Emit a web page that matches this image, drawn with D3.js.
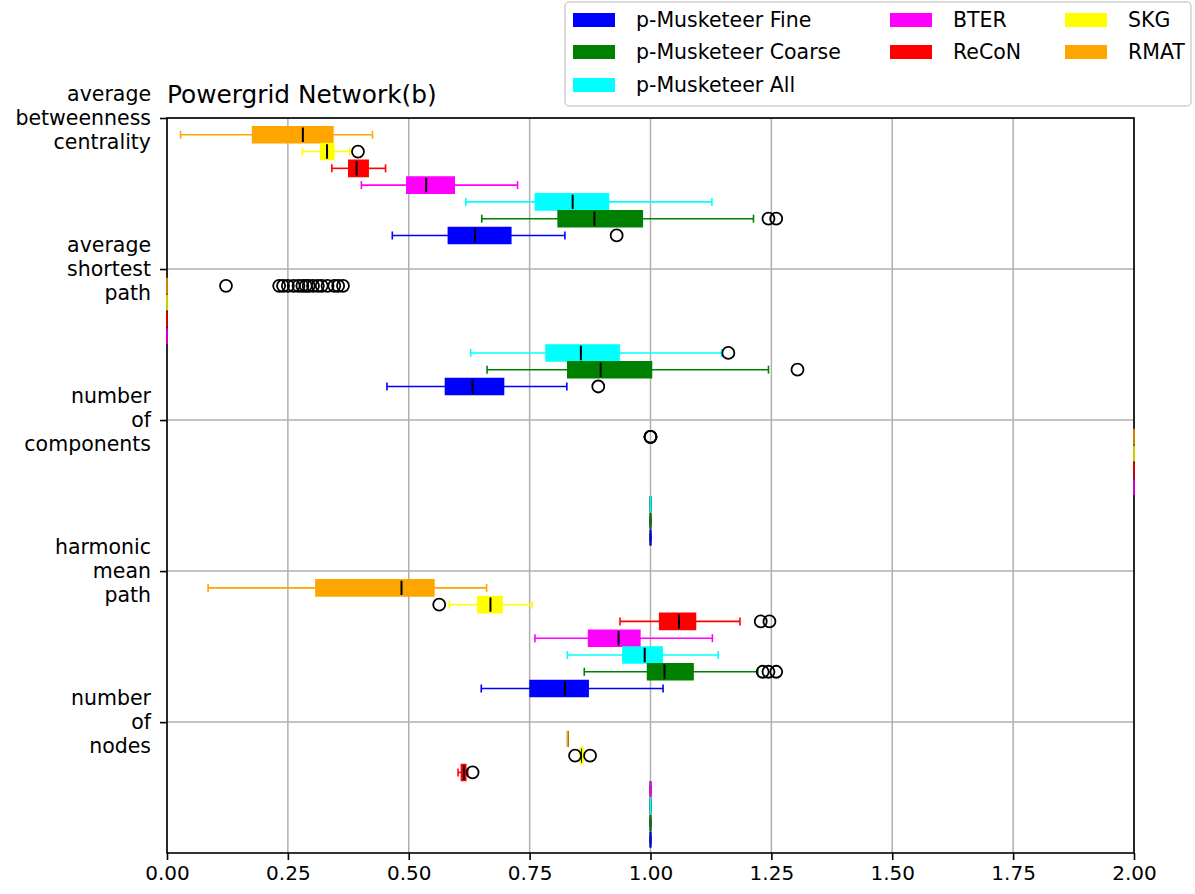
<!DOCTYPE html>
<html>
<head>
<meta charset="utf-8">
<script src="https://cdn.jsdelivr.net/npm/d3@7"></script>
<style>
  html, body { margin: 0; padding: 0; background: #fff; }
  svg { display: block; font-family: "DejaVu Sans", sans-serif; }
</style>
</head>
<body>
<svg id="chart" width="1195" height="894"></svg>
<script>
// ---------------- data ----------------
const title = "Powergrid Network(b)";
const metrics = [
  "average\nbetweenness\ncentrality",
  "average\nshortest\npath",
  "number\nof\ncomponents",
  "harmonic\nmean\npath",
  "number\nof\nnodes"
];
// drawing order inside each group (top to bottom)
const methods = ["RMAT", "SKG", "ReCoN", "BTER", "p-Musketeer All", "p-Musketeer Coarse", "p-Musketeer Fine"];
const methodColors = ["#ffa500", "#ffff00", "#ff0000", "#ff00ff", "#00ffff", "#008000", "#0000ff"];
// legend columns
const legendColumns = [
  ["p-Musketeer Fine", "p-Musketeer Coarse", "p-Musketeer All"],
  ["BTER", "ReCoN"],
  ["SKG", "RMAT"]
];
const xTicks = [0, 0.25, 0.5, 0.75, 1.0, 1.25, 1.5, 1.75, 2.0];

// each stat: [whiskerLow, q1, median, q3, whiskerHigh], one per metric
const rmatStats = [
  [0.028, 0.177, 0.281, 0.343, 0.425],
  [0, 0, 0, 0, 0],
  [2, 2, 2, 2, 2],
  [0.085, 0.308, 0.485, 0.552, 0.661],
  [0.829, 0.829, 0.829, 0.829, 0.829]
];
const rmatOutliers = [
  [],
  [0.122, 0.232, 0.240, 0.250, 0.262, 0.272, 0.280, 0.287, 0.293, 0.302, 0.312, 0.320, 0.332, 0.346, 0.354, 0.364],
  [1.0, 1.0, 1.0],
  [],
  []
];
const skgStats = [
  [0.280, 0.318, 0.331, 0.345, 0.378],
  [0, 0, 0, 0, 0],
  [2, 2, 2, 2, 2],
  [0.584, 0.643, 0.669, 0.693, 0.755],
  [0.854, 0.855, 0.858, 0.860, 0.861]
];
const skgOutliers = [[0.395], [], [], [0.563], [0.844, 0.875]];
const reconStats = [
  [0.341, 0.376, 0.392, 0.416, 0.452],
  [0, 0, 0, 0, 0],
  [2, 2, 2, 2, 2],
  [0.937, 1.019, 1.059, 1.093, 1.185],
  [0.602, 0.609, 0.614, 0.618, 0.622]
];
const reconOutliers = [[], [], [], [1.228, 1.246], [0.632]];
const bterStats = [
  [0.402, 0.496, 0.536, 0.594, 0.725],
  [0, 0, 0, 0, 0],
  [2, 2, 2, 2, 2],
  [0.761, 0.872, 0.934, 0.978, 1.128],
  [1, 1, 1, 1, 1]
];
const bterOutliers = [[], [], [], [], []];
const allStats = [
  [0.618, 0.762, 0.839, 0.913, 1.127],
  [0.628, 0.784, 0.856, 0.935, 1.147],
  [1, 1, 1, 1, 1],
  [0.828, 0.943, 0.988, 1.024, 1.140],
  [1, 1, 1, 1, 1]
];
const allOutliers = [[], [1.161], [], [], []];
const coarseStats = [
  [0.651, 0.809, 0.884, 0.983, 1.213],
  [0.662, 0.829, 0.897, 1.002, 1.244],
  [1, 1, 1, 1, 1],
  [0.863, 0.994, 1.029, 1.088, 1.222],
  [1, 1, 1, 1, 1]
];
const coarseOutliers = [[1.244, 1.260], [1.304], [], [1.232, 1.244, 1.260], []];
const fineStats = [
  [0.466, 0.582, 0.637, 0.711, 0.823],
  [0.455, 0.576, 0.632, 0.696, 0.827],
  [1, 1, 1, 1, 1],
  [0.650, 0.751, 0.823, 0.871, 1.026],
  [1, 1, 1, 1, 1]
];
const fineOutliers = [[0.930], [0.892], [], [], []];

const allMethodStats = [rmatStats, skgStats, reconStats, bterStats, allStats, coarseStats, fineStats];
const allMethodOutliers = [rmatOutliers, skgOutliers, reconOutliers, bterOutliers, allOutliers, coarseOutliers, fineOutliers];

// ---------------- layout ----------------
const svg = d3.select("#chart");
const plot = { left: 167, right: 1134, top: 118, bottom: 853 };
const slotsPerGroup = 9;
const x = d3.scaleLinear().domain([0, 2]).range([plot.left, plot.right]);
const y = d3.scaleLinear().domain([0, 43.8]).range([plot.top, plot.bottom]);
const boxH = 16, capH = 8;

// grid
const g = svg.append("g");
g.selectAll("line.vgrid").data(xTicks).enter().append("line")
  .attr("x1", d => x(d)).attr("x2", d => x(d))
  .attr("y1", plot.top).attr("y2", plot.bottom)
  .attr("stroke", "#b0b0b0").attr("stroke-width", 1.5);
const yTickVals = metrics.map((m, i) => i * slotsPerGroup);
g.selectAll("line.hgrid").data(yTickVals).enter().append("line")
  .attr("x1", plot.left).attr("x2", plot.right)
  .attr("y1", d => y(d)).attr("y2", d => y(d))
  .attr("stroke", "#b0b0b0").attr("stroke-width", 1.5);

// axes frame
svg.append("rect").attr("x", plot.left).attr("y", plot.top)
  .attr("width", plot.right - plot.left).attr("height", plot.bottom - plot.top)
  .attr("fill", "none").attr("stroke", "#000").attr("stroke-width", 1.6);

// boxes
const records = [];
metrics.forEach((m, gi) => {
  methods.forEach((name, mi) => {
    records.push({
      gi, mi, name, color: methodColors[mi],
      s: allMethodStats[mi][gi],
      out: allMethodOutliers[mi][gi],
      pos: gi * slotsPerGroup + mi + 1
    });
  });
});

const bx = svg.append("g");
records.forEach(r => {
  const cy = y(r.pos);
  const [wl, q1, md, q3, wh] = r.s;
  const gg = bx.append("g");
  // whiskers
  gg.append("line").attr("x1", x(wl)).attr("x2", x(q1)).attr("y1", cy).attr("y2", cy)
    .attr("stroke", r.color).attr("stroke-width", 1.6);
  gg.append("line").attr("x1", x(q3)).attr("x2", x(wh)).attr("y1", cy).attr("y2", cy)
    .attr("stroke", r.color).attr("stroke-width", 1.6);
  // caps
  [wl, wh].forEach(v => {
    gg.append("line").attr("x1", x(v)).attr("x2", x(v)).attr("y1", cy - capH / 2).attr("y2", cy + capH / 2)
      .attr("stroke", r.color).attr("stroke-width", 1.6);
  });
  // box fill
  gg.append("rect").attr("x", x(q1)).attr("y", cy - boxH / 2)
    .attr("width", Math.max(0, x(q3) - x(q1))).attr("height", boxH)
    .attr("fill", r.color);
  // median
  gg.append("line").attr("x1", x(md)).attr("x2", x(md)).attr("y1", cy - boxH / 2).attr("y2", cy + boxH / 2)
    .attr("stroke", "#000").attr("stroke-width", 2);
  // box outline (path so zero-width boxes still show)
  const x0 = x(q1), x1 = x(q3), y0 = cy - boxH / 2, y1 = cy + boxH / 2;
  gg.append("path")
    .attr("d", `M${x0},${y0}L${x1},${y0}L${x1},${y1}L${x0},${y1}Z`)
    .attr("fill", "none").attr("stroke", r.color).attr("stroke-width", 1.6);
  // outliers
  gg.selectAll("circle").data(r.out).enter().append("circle")
    .attr("cx", d => x(d)).attr("cy", cy).attr("r", 6)
    .attr("fill", "none").attr("stroke", "#000").attr("stroke-width", 1.8);
});

// x axis
const xAxis = d3.axisBottom(x).tickValues(xTicks).tickFormat(d3.format(".2f")).tickSize(7).tickPadding(6);
const xg = svg.append("g").attr("transform", `translate(0,${plot.bottom})`).call(xAxis);
xg.select(".domain").remove();
xg.selectAll(".tick line").attr("stroke", "#000").attr("stroke-width", 1.6);
xg.selectAll(".tick text").attr("font-size", 20).attr("fill", "#000").attr("font-family", "DejaVu Sans");

// y axis ticks with multiline labels
const yAxis = d3.axisLeft(y).tickValues(yTickVals).tickFormat("").tickSize(7);
const yg = svg.append("g").attr("transform", `translate(${plot.left},0)`).call(yAxis);
yg.select(".domain").remove();
yg.selectAll(".tick line").attr("stroke", "#000").attr("stroke-width", 1.6);
const lineH = 24;
metrics.forEach((m, i) => {
  const lines = m.split("\n");
  const t = svg.append("text").attr("text-anchor", "end").attr("font-size", 20.5).attr("fill", "#000");
  lines.forEach((ln, k) => {
    t.append("tspan").attr("x", 151)
      .attr("y", y(yTickVals[i]) + (k - (lines.length - 1) / 2) * lineH)
      .attr("dy", "0.35em").text(ln);
  });
});

// title
svg.append("text").attr("x", plot.left).attr("y", 103)
  .attr("font-size", 24.8).attr("fill", "#000").text(title);

// legend
const lg = svg.append("g");
lg.append("rect").attr("x", 565).attr("y", 2).attr("width", 626).attr("height", 104)
  .attr("rx", 4).attr("fill", "#fff").attr("fill-opacity", 0.85)
  .attr("stroke", "#d0d0d0").attr("stroke-width", 1.5);
const colX = [573, 890, 1065];
const rowY = [20, 52, 85];
legendColumns.forEach((col, c) => {
  col.forEach((name, rr) => {
    const color = methodColors[methods.indexOf(name)];
    lg.append("rect").attr("x", colX[c]).attr("y", rowY[rr] - 7).attr("width", 42).attr("height", 14)
      .attr("fill", color);
    lg.append("text").attr("x", colX[c] + 63).attr("y", rowY[rr]).attr("dy", "0.35em")
      .attr("font-size", 20.5).attr("fill", "#000").text(name);
  });
});
</script>
</body>
</html>
